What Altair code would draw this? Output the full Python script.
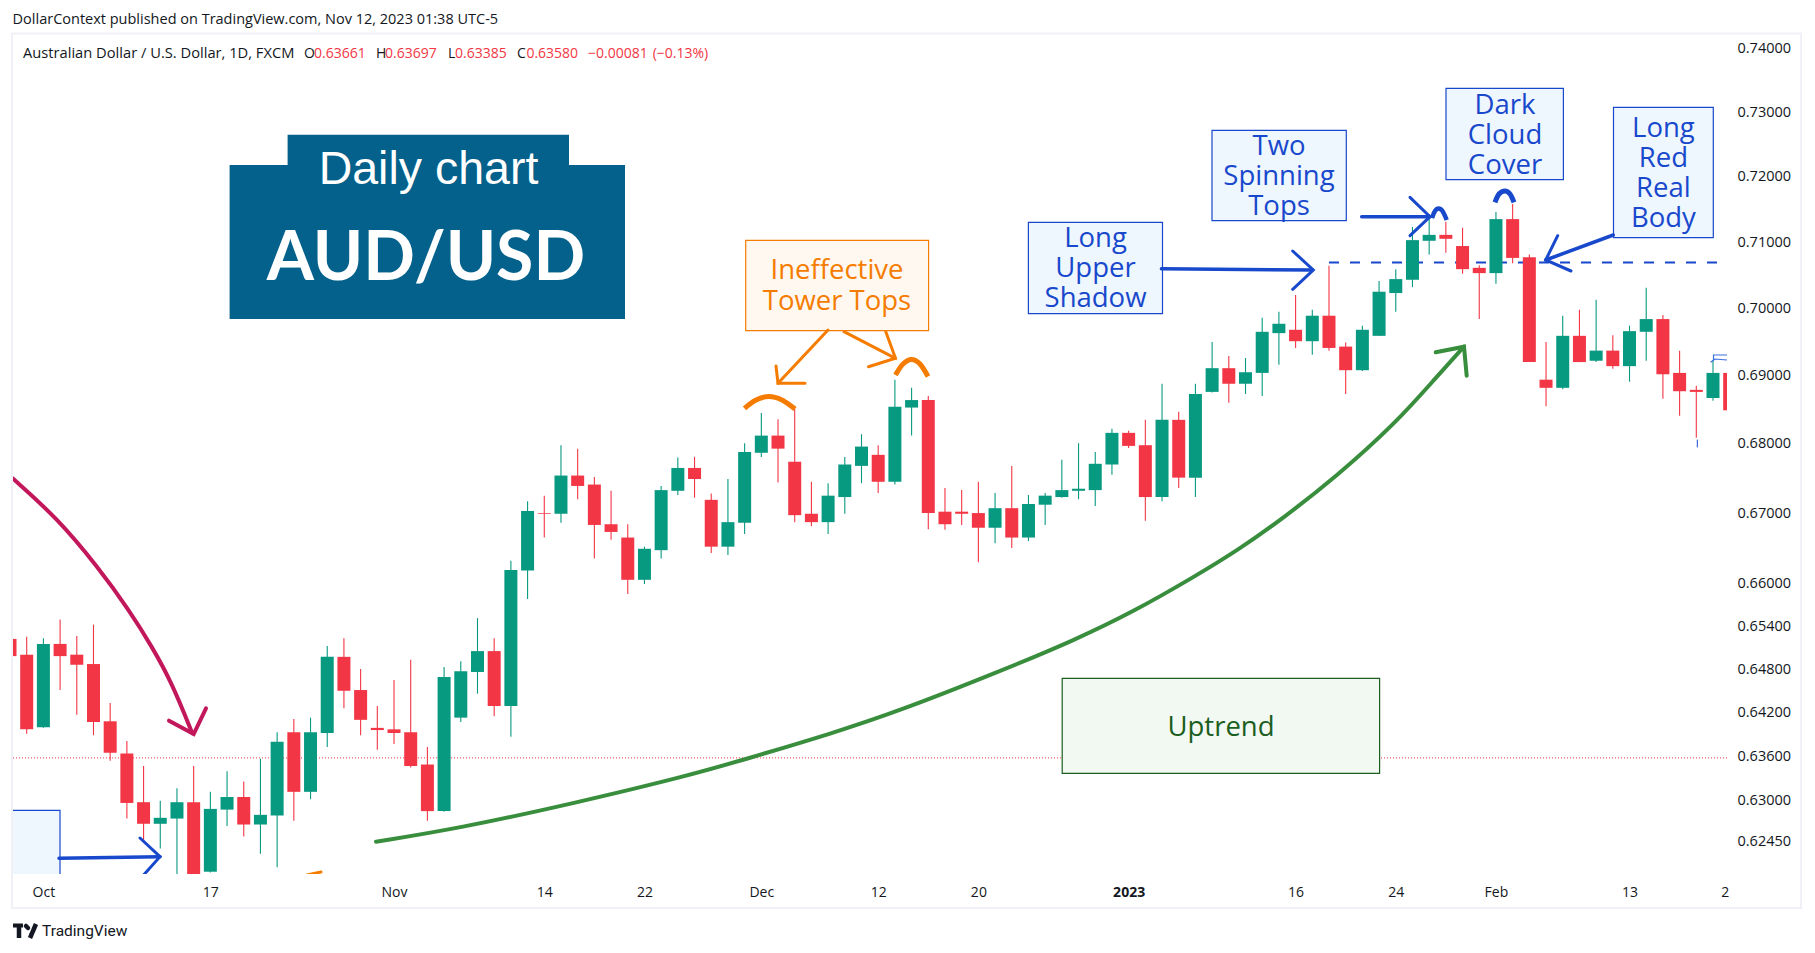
import math

import altair as alt
import pandas as pd

# AUD/USD daily candles
opens = [.6522, .6500, .6400, .6515, .6500, .6487, .6408, .6364, .6298, .6269, .6276, .6298, .6205, .6288,
         .6305, .6268, .6280, .6393, .6312, .6392, .6497, .6451, .6399, .6397, .6393, .6349, .6286, .6413,
         .6476, .6505, .6429, .6618, .6700, .6699, .6754, .6741, .6684, .6665, .6605, .6647, .6732, .6765,
         .6719, .6652, .6686, .6787, .6812, .6774, .6699, .6687, .6723, .6768, .6784, .6745, .6853, .6864,
         .6702, .6702, .6700, .6679, .6707, .6665, .6712, .6723, .6732, .6733, .6770, .6816, .6798, .6723,
         .6835, .6751, .6876, .6911, .6888, .6904, .6963, .6968, .6951, .6989, .6943, .6908, .6959, .7023,
         .7043, .7102, .7111, .7094, .7061, .7053, .7135, .7077, .6894, .6882, .6959, .6922, .6937, .6914,
         .6965, .6984, .6904, .6879, .6867, .6904]
highs = [.6535, .6525, .6523, .6549, .6526, .6542, .6433, .6381, .6347, .6300, .6317, .6347, .6312, .6340,
         .6326, .6357, .6393, .6411, .6413, .6512, .6523, .6480, .6429, .6465, .6493, .6373, .6483, .6491,
         .6551, .6523, .6632, .6717, .6725, .6798, .6793, .6752, .6732, .6684, .6652, .6739, .6780, .6781,
         .6728, .6749, .6801, .6845, .6836, .6851, .6745, .6743, .6781, .6814, .6798, .6894, .6882, .6870,
         .6736, .6733, .6745, .6729, .6768, .6726, .6729, .6777, .6801, .6788, .6822, .6819, .6835, .6888,
         .6847, .6888, .6950, .6929, .6926, .6986, .6995, .7020, .6998, .7064, .6949, .6974, .7041, .7059,
         .7123, .7143, .7131, .7122, .7065, .7146, .7158, .7081, .6950, .6989, .6998, .7013, .6960, .6974,
         .7031, .6990, .6937, .6885, .6923, .6920]
lows = [.6490, .6391, .6399, .6451, .6417, .6389, .6354, .6276, .6244, .6236, .6190, .6185, .6204, .6266,
        .6252, .6229, .6211, .6273, .6302, .6373, .6426, .6389, .6369, .6377, .6345, .6273, .6285, .6407,
        .6446, .6415, .6387, .6578, .6665, .6686, .6720, .6635, .6662, .6585, .6599, .6635, .6726, .6722,
        .6643, .6640, .6670, .6781, .6744, .6687, .6681, .6670, .6699, .6743, .6729, .6741, .6812, .6677,
        .6676, .6683, .6630, .6657, .6650, .6660, .6683, .6722, .6720, .6710, .6755, .6794, .6689, .6717,
        .6736, .6723, .6875, .6860, .6873, .6870, .6916, .6941, .6931, .6937, .6873, .6907, .6959, .6995,
        .7032, .7081, .7084, .7052, .6984, .7037, .7068, .6920, .6855, .6880, .6920, .6920, .6910, .6891,
        .6922, .6866, .6841, .6809, .6863, .6830]
closes = [.6498, .6397, .6515, .6498, .6486, .6407, .6365, .6297, .6269, .6277, .6298, .6190, .6289, .6305,
          .6268, .6281, .6380, .6312, .6393, .6497, .6450, .6410, .6396, .6392, .6347, .6286, .6469, .6477,
          .6505, .6429, .6619, .6703, .6699, .6754, .6739, .6683, .6673, .6605, .6649, .6733, .6765, .6749,
          .6652, .6687, .6788, .6812, .6793, .6697, .6687, .6725, .6770, .6796, .6745, .6854, .6864, .6700,
          .6684, .6699, .6679, .6707, .6665, .6713, .6725, .6733, .6735, .6771, .6816, .6797, .6723, .6835,
          .6751, .6873, .6911, .6888, .6905, .6965, .6977, .6951, .6989, .6941, .6908, .6968, .7025, .7044,
          .7103, .7111, .7105, .7059, .7053, .7135, .7076, .6920, .6882, .6959, .6920, .6937, .6914, .6966,
          .6984, .6902, .6877, .6876, .6904, .6849]

# tick positions and labels
date_ticks = [2, 12, 23, 32, 38, 45, 52, 58, 67, 77, 83, 89, 97, 102.7]
date_labels = ['Oct', '17', 'Nov', '14', '22', 'Dec', '12', '20', '2023', '16', '24', 'Feb', '13', '2']
price_ticks = [.74, .73, .72, .71, .70, .69, .68, .67, .66, .654, .648, .642, .636, .63, .6245]
last_close = 0.6358

GREEN = '#089981'
RED = '#f23645'
BLUE = '#1848cc'
ORANGE = '#f57c00'
DARK = '#131722'
UI_FONT = 'Open Sans'
NOTE_FONT = 'Open Sans'


# annotations were placed by eye on the screenshot, these map them into data units
def ax(px):
    return 1 + (px - 26.7) / 16.696


def ay(py):
    return 0.74 * math.exp(-(py - 48.7) / 4673)


x_scale = alt.Scale(domain=[ax(13), ax(1727)], nice=False, zero=False, padding=0)
y_scale = alt.Scale(type='log', domain=[ay(874), ay(34)], nice=False, zero=False, padding=0)


def enc_x(name='x'):
    return alt.X(f'{name}:Q', scale=x_scale, axis=None)


def enc_y(name='y'):
    return alt.Y(f'{name}:Q', scale=y_scale, axis=None)


def box(x0, y0, x1, y1, fill=None, stroke=None, width=1.2, clip=True):
    df = pd.DataFrame({'x': [ax(x0)], 'x2': [ax(x1)], 'y': [ay(y0)], 'y2': [ay(y1)]})
    opts = dict(clip=clip, strokeWidth=width, fill=fill if fill else 'transparent')
    if stroke:
        opts['stroke'] = stroke
    return alt.Chart(df).mark_rect(**opts).encode(x=enc_x(), x2='x2:Q', y=enc_y(), y2='y2:Q')


def label(px, py, text, size, color, font=NOTE_FONT, align='center', weight='normal', leading=30):
    # for several lines py is the middle of the first one
    df = pd.DataFrame({'x': [ax(px)], 'y': [ay(py)], 't': [text]})
    return alt.Chart(df).mark_text(
        font=font, fontSize=size, color=color, align=align, baseline='middle', fontWeight=weight,
        lineBreak='\n', lineHeight=leading
    ).encode(x=enc_x(), y=enc_y(), text='t:N')


def pen(points, color, width=3, curve='linear', dash=None, clip=True, cap='round'):
    df = pd.DataFrame({
        'x': [ax(p[0]) for p in points],
        'y': [ay(p[1]) for p in points],
        'k': list(range(len(points))),
    })
    opts = dict(color=color, strokeWidth=width, interpolate=curve, clip=clip, strokeCap=cap)
    if dash:
        opts['strokeDash'] = dash
    return alt.Chart(df).mark_line(**opts).encode(x=enc_x(), y=enc_y(), order='k:O')


candles = pd.DataFrame({'o': opens, 'h': highs, 'l': lows, 'c': closes})
candles['i'] = range(len(candles))
candles['top'] = candles[['o', 'c']].max(axis=1)
candles['bot'] = candles[['o', 'c']].min(axis=1)
candles['up'] = candles['c'] >= candles['o']
candle_color = alt.condition('datum.up', alt.value(GREEN), alt.value(RED))

wicks = alt.Chart(candles).mark_rule(strokeWidth=1.1, clip=True).encode(
    x=alt.X('i:Q', scale=x_scale, axis=alt.Axis(
        values=date_ticks, title=None, grid=False, domain=False, ticks=False,
        labelExpr=f"{date_labels}[indexof({date_ticks}, datum.value)]",
        labelFont=UI_FONT, labelFontSize=14, labelColor=DARK, labelPadding=11,
        labelOverlap=False, labelBound=False, labelFlush=False,
        labelFontWeight={'condition': {'test': 'datum.value == 67', 'value': 'bold'}, 'value': 'normal'},
    )),
    y=alt.Y('l:Q', scale=y_scale, axis=alt.Axis(
        orient='right', values=price_ticks, format='.5f', title=None, grid=False, domain=False, ticks=False,
        labelFont=UI_FONT, labelFontSize=14.5, labelColor=DARK, labelPadding=10, labelOverlap=False,
        labelBound=False, labelFlush=False,
    )),
    y2='h:Q',
    color=candle_color,
)
bodies = alt.Chart(candles).mark_bar(size=13, clip=True).encode(
    x=enc_x('i'), y=enc_y('top'), y2='bot:Q', color=candle_color,
)

last_line = alt.Chart(pd.DataFrame({'p': [last_close]})).mark_rule(
    color=RED, strokeWidth=1, strokeDash=[1, 2]
).encode(y=enc_y('p'))

frame = box(12, 33.5, 1801, 908, stroke='#eff1f6', width=2, clip=False)

banner = [
    box(229.6, 165, 625, 319, fill='#03618c'),
    box(287.6, 134.7, 569, 166, fill='#03618c'),
    label(428.5, 170, 'Daily chart', 46.5, 'white', font='Liberation Sans'),
    label(426, 260, 'AUD/USD', 68, 'white', font='Lato', weight='bold'),
]

notes = [
    # boxes
    box(12, 810.3, 60, 880, fill='#eef6fe', stroke=BLUE),
    box(1028.4, 222.3, 1162.5, 313.7, fill='#eef6fe', stroke=BLUE),
    box(1212, 130.3, 1346.3, 220.7, fill='#eef6fe', stroke=BLUE),
    box(1446, 88.3, 1563.4, 179.7, fill='#eef6fe', stroke=BLUE),
    box(1613.5, 107.3, 1713.3, 237.7, fill='#eef6fe', stroke=BLUE),
    box(745.7, 240.3, 928.6, 330.7, fill='#fff8f0', stroke=ORANGE),
    box(1062.2, 678.3, 1379.6, 773.3, fill='#f2f9f3', stroke='#1b5e20'),
    # box text
    label(1095.5, 239, 'Long\nUpper\nShadow', 27.5, BLUE),
    label(1279, 147, 'Two\nSpinning\nTops', 27.5, BLUE),
    label(1505, 105.5, 'Dark\nCloud\nCover', 27.5, BLUE),
    label(1663.4, 129, 'Long\nRed\nReal\nBody', 27.5, BLUE),
    label(837, 271, 'Ineffective\nTower Tops', 27.5, ORANGE, leading=30.5),
    label(1221, 727.5, 'Uptrend', 27.5, '#1b5e20'),
    # big arrows
    pen([(12.6, 478.3), (57.4, 518.3), (97.6, 566.7), (129, 610), (152, 646.7), (172, 683), (192.3, 733.3)],
        '#c2185b', width=4, curve='basis'),
    pen([(169, 720.7), (193.7, 734), (206, 708.3)], '#c2185b', width=4),
    pen([(376, 841.7), (459, 828.3), (574, 803.3), (689, 775.5), (746, 759), (832.4, 733.3), (900, 710.7),
         (999, 671.7), (1075, 640), (1133.4, 611.7), (1191.7, 578.3), (1238.4, 550), (1285, 516.7),
         (1334.7, 478), (1396, 423), (1436.8, 376.7), (1464, 346.7)], '#388e3c', width=4, curve='basis'),
    pen([(1435.7, 352.3), (1464, 346.7), (1466.7, 375.7)], '#388e3c', width=4),
    # orange arrows and arcs
    pen([(828, 330), (778, 383.3)], ORANGE),
    pen([(776, 366), (778, 383.3), (805, 383.3)], ORANGE),
    pen([(844, 331.7), (895.5, 358.3)], ORANGE),
    pen([(885.8, 331.7), (895.5, 358.3), (868.5, 366.7)], ORANGE),
    pen([(744.5, 408.3), (756, 400), (769, 396.5), (782, 400), (795, 409)], ORANGE, width=5, curve='cardinal', cap='butt'),
    pen([(895.5, 375), (903, 364), (911.5, 359.5), (920, 364), (928, 376.5)], ORANGE, width=5, curve='cardinal', cap='butt'),
    pen([(307, 875), (321, 872)], ORANGE),
    # blue arrows and arcs
    pen([(59, 858.3), (160, 856.7)], BLUE, width=3.5),
    pen([(140, 838), (160, 856.7), (142.7, 876)], BLUE),
    pen([(1161.4, 268.7), (1312, 270)], BLUE, width=3.5),
    pen([(1292.7, 251), (1313.3, 270), (1292.7, 289.3)], BLUE),
    pen([(1361.7, 216.7), (1430, 216.7)], BLUE, width=3.5),
    pen([(1410, 197.3), (1430, 216.7), (1410, 235.7)], BLUE),
    pen([(1432, 218), (1435, 211), (1438.5, 208.5), (1442.5, 211), (1446.7, 220)], BLUE, width=4.5, curve='cardinal', cap='butt'),
    pen([(1495, 202.3), (1499, 194), (1505, 191), (1510, 194), (1514, 202.3)], BLUE, width=5, curve='cardinal', cap='butt'),
    pen([(1613.3, 235), (1545.7, 260)], BLUE, width=3.5),
    pen([(1557.7, 235.7), (1545.7, 260), (1571, 271)], BLUE),
    # small leftovers at the far right
    pen([(1697.3, 440), (1697.3, 447)], '#1848cc', width=1),
    pen([(1727, 355), (1713.5, 355), (1713.5, 360)], '#3a6fe0', width=1.2),
    pen([(1711, 362), (1715, 359), (1727, 360)], '#3a6fe0', width=1.2),
]

dashed = pen([(1329, 262.5), (1727, 262.5)], BLUE, width=2, dash=[10, 11], cap='butt')

header = [
    label(12.6, 20, 'DollarContext published on TradingView.com, Nov 12, 2023 01:38 UTC-5', 14.5, DARK,
          font=UI_FONT, align='left'),
    label(23, 54, 'Australian Dollar / U.S. Dollar, 1D, FXCM', 14.7, DARK, font=UI_FONT, align='left'),
    label(304, 54, 'O', 14, DARK, font=UI_FONT, align='left'),
    label(314, 54, '0.63661', 14, RED, font=UI_FONT, align='left'),
    label(376, 54, 'H', 14, DARK, font=UI_FONT, align='left'),
    label(385, 54, '0.63697', 14, RED, font=UI_FONT, align='left'),
    label(448, 54, 'L', 14, DARK, font=UI_FONT, align='left'),
    label(455, 54, '0.63385', 14, RED, font=UI_FONT, align='left'),
    label(517, 54, 'C', 14, DARK, font=UI_FONT, align='left'),
    label(526.4, 54, '0.63580', 14, RED, font=UI_FONT, align='left'),
    label(588, 54, '\u22120.00081', 14, RED, font=UI_FONT, align='left'),
    label(652.7, 54, '(\u22120.13%)', 14, RED, font=UI_FONT, align='left'),
]

logo = [
    pen([(13, 925.5), (23, 925.5)], '#131722', width=4, clip=False, cap='butt'),
    pen([(19, 925), (19, 938)], '#131722', width=4.5, clip=False, cap='butt'),
    pen([(26, 926), (28, 928)], '#131722', width=4.5, clip=False),
    pen([(36, 924), (30, 938)], '#131722', width=4.5, clip=False, cap='butt'),
    label(42, 931, 'TradingView', 15.5, '#131722', font='Roboto', align='left'),
]

chart = alt.layer(
    frame, last_line, dashed, wicks, bodies, *banner, *notes, *header, *logo
).resolve_axis(
    x='independent', y='independent'
).properties(
    width=1714,
    height=840,
    autosize=alt.AutoSizeParams(type='none'),
    padding={'left': 5, 'top': 26, 'right': 80, 'bottom': 66},
    background='white',
).configure_view(
    strokeWidth=0
)

chart.save("out.html", embed_options={"renderer": "svg", "actions": False})
